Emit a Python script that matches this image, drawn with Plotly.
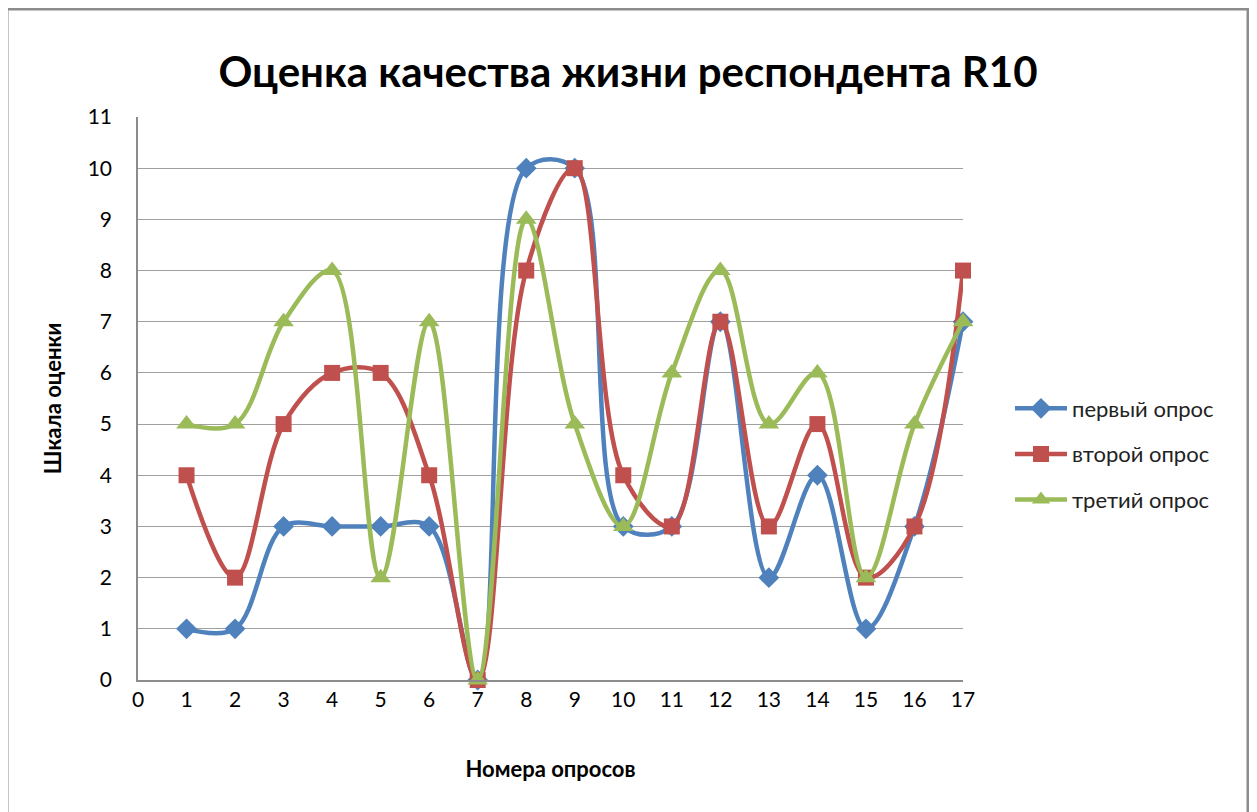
import plotly.graph_objects as go

surveys = list(range(1, 18))
first = [1, 1, 3, 3, 3, 3, 0, 10, 10, 3, 3, 7, 2, 4, 1, 3, 7]
second = [4, 2, 5, 6, 6, 4, 0, 8, 10, 4, 3, 7, 3, 5, 2, 3, 8]
third = [5, 5, 7, 8, 2, 7, 0, 9, 5, 3, 6, 8, 5, 6, 2, 5, 7]

series = [
    ("первый опрос", first, "#4F81BD", "diamond", 16),
    ("второй опрос", second, "#C0504D", "square", 16),
    ("третий опрос", third, "#9BBB59", "triangle-up", 18),
]

font = "Lato, 'Open Sans', sans-serif"

fig = go.Figure()
for i, (name, vals, color, symbol, size) in enumerate(series):
    fig.add_trace(go.Scatter(
        x=surveys, y=vals, name=name, mode="lines+markers",
        line=dict(color=color, width=4.5, shape="spline", smoothing=1.0),
        marker=dict(symbol=symbol, size=size, color=color),
        cliponaxis=False, legendgroup=str(i),
    ))

# the page adds an 8px offset; all pixel targets are shifted by it
OFF = 8
L, T = 138 - OFF, 117 - OFF
W, H = 963 - 138, 680 - 117
R = 1257 - L - W
B = 812 - T - H

def px(x):
    return (x - 138) / W

def py(y):
    return (680 - y) / H

fig.update_layout(
    width=1257, height=812,
    margin=dict(l=L, r=R, t=T, b=B),
    paper_bgcolor="white", plot_bgcolor="white",
    font=dict(family=font, color="#000000"),
    title=dict(text="<b>Оценка качества жизни респондента R10</b>",
               x=px(628), xanchor="center", xref="paper",
               y=1 - (72 - OFF) / 812, yanchor="middle",
               font=dict(size=42, family=font)),
    showlegend=True,
    legend=dict(x=px(1010), xanchor="left", y=py(454), yanchor="middle",
                font=dict(size=22, color="#222222"), tracegroupgap=14,
                itemwidth=52, bgcolor="rgba(0,0,0,0)"),
    shapes=[dict(type="rect", xref="paper", yref="paper",
                 x0=px(7), x1=px(1248), y0=py(830), y1=py(9),
                 line=dict(color="#8c8c8c", width=3), layer="below")],
)

fig.update_xaxes(
    range=[0, 17], dtick=1, tick0=0, showgrid=False,
    showline=True, linecolor="#8c8c8c", linewidth=1.5,
    ticks="outside", ticklen=0, tickfont=dict(size=21), zeroline=False,
    ticklabelstandoff=0,
    title=dict(text="<b>Номера опросов</b>", font=dict(size=22), standoff=52),
)
fig.update_yaxes(
    range=[0, 11], dtick=1, tick0=0, showgrid=True, gridcolor="#a0a0a0", gridwidth=1.2,
    showline=True, linecolor="#8c8c8c", linewidth=1.5, zeroline=False,
    ticks="outside", ticklen=0, tickfont=dict(size=21), ticklabelstandoff=20,
    title=dict(text="<b>Шкала оценки</b>", font=dict(size=22), standoff=20),
)

fig.write_html("out.html")
